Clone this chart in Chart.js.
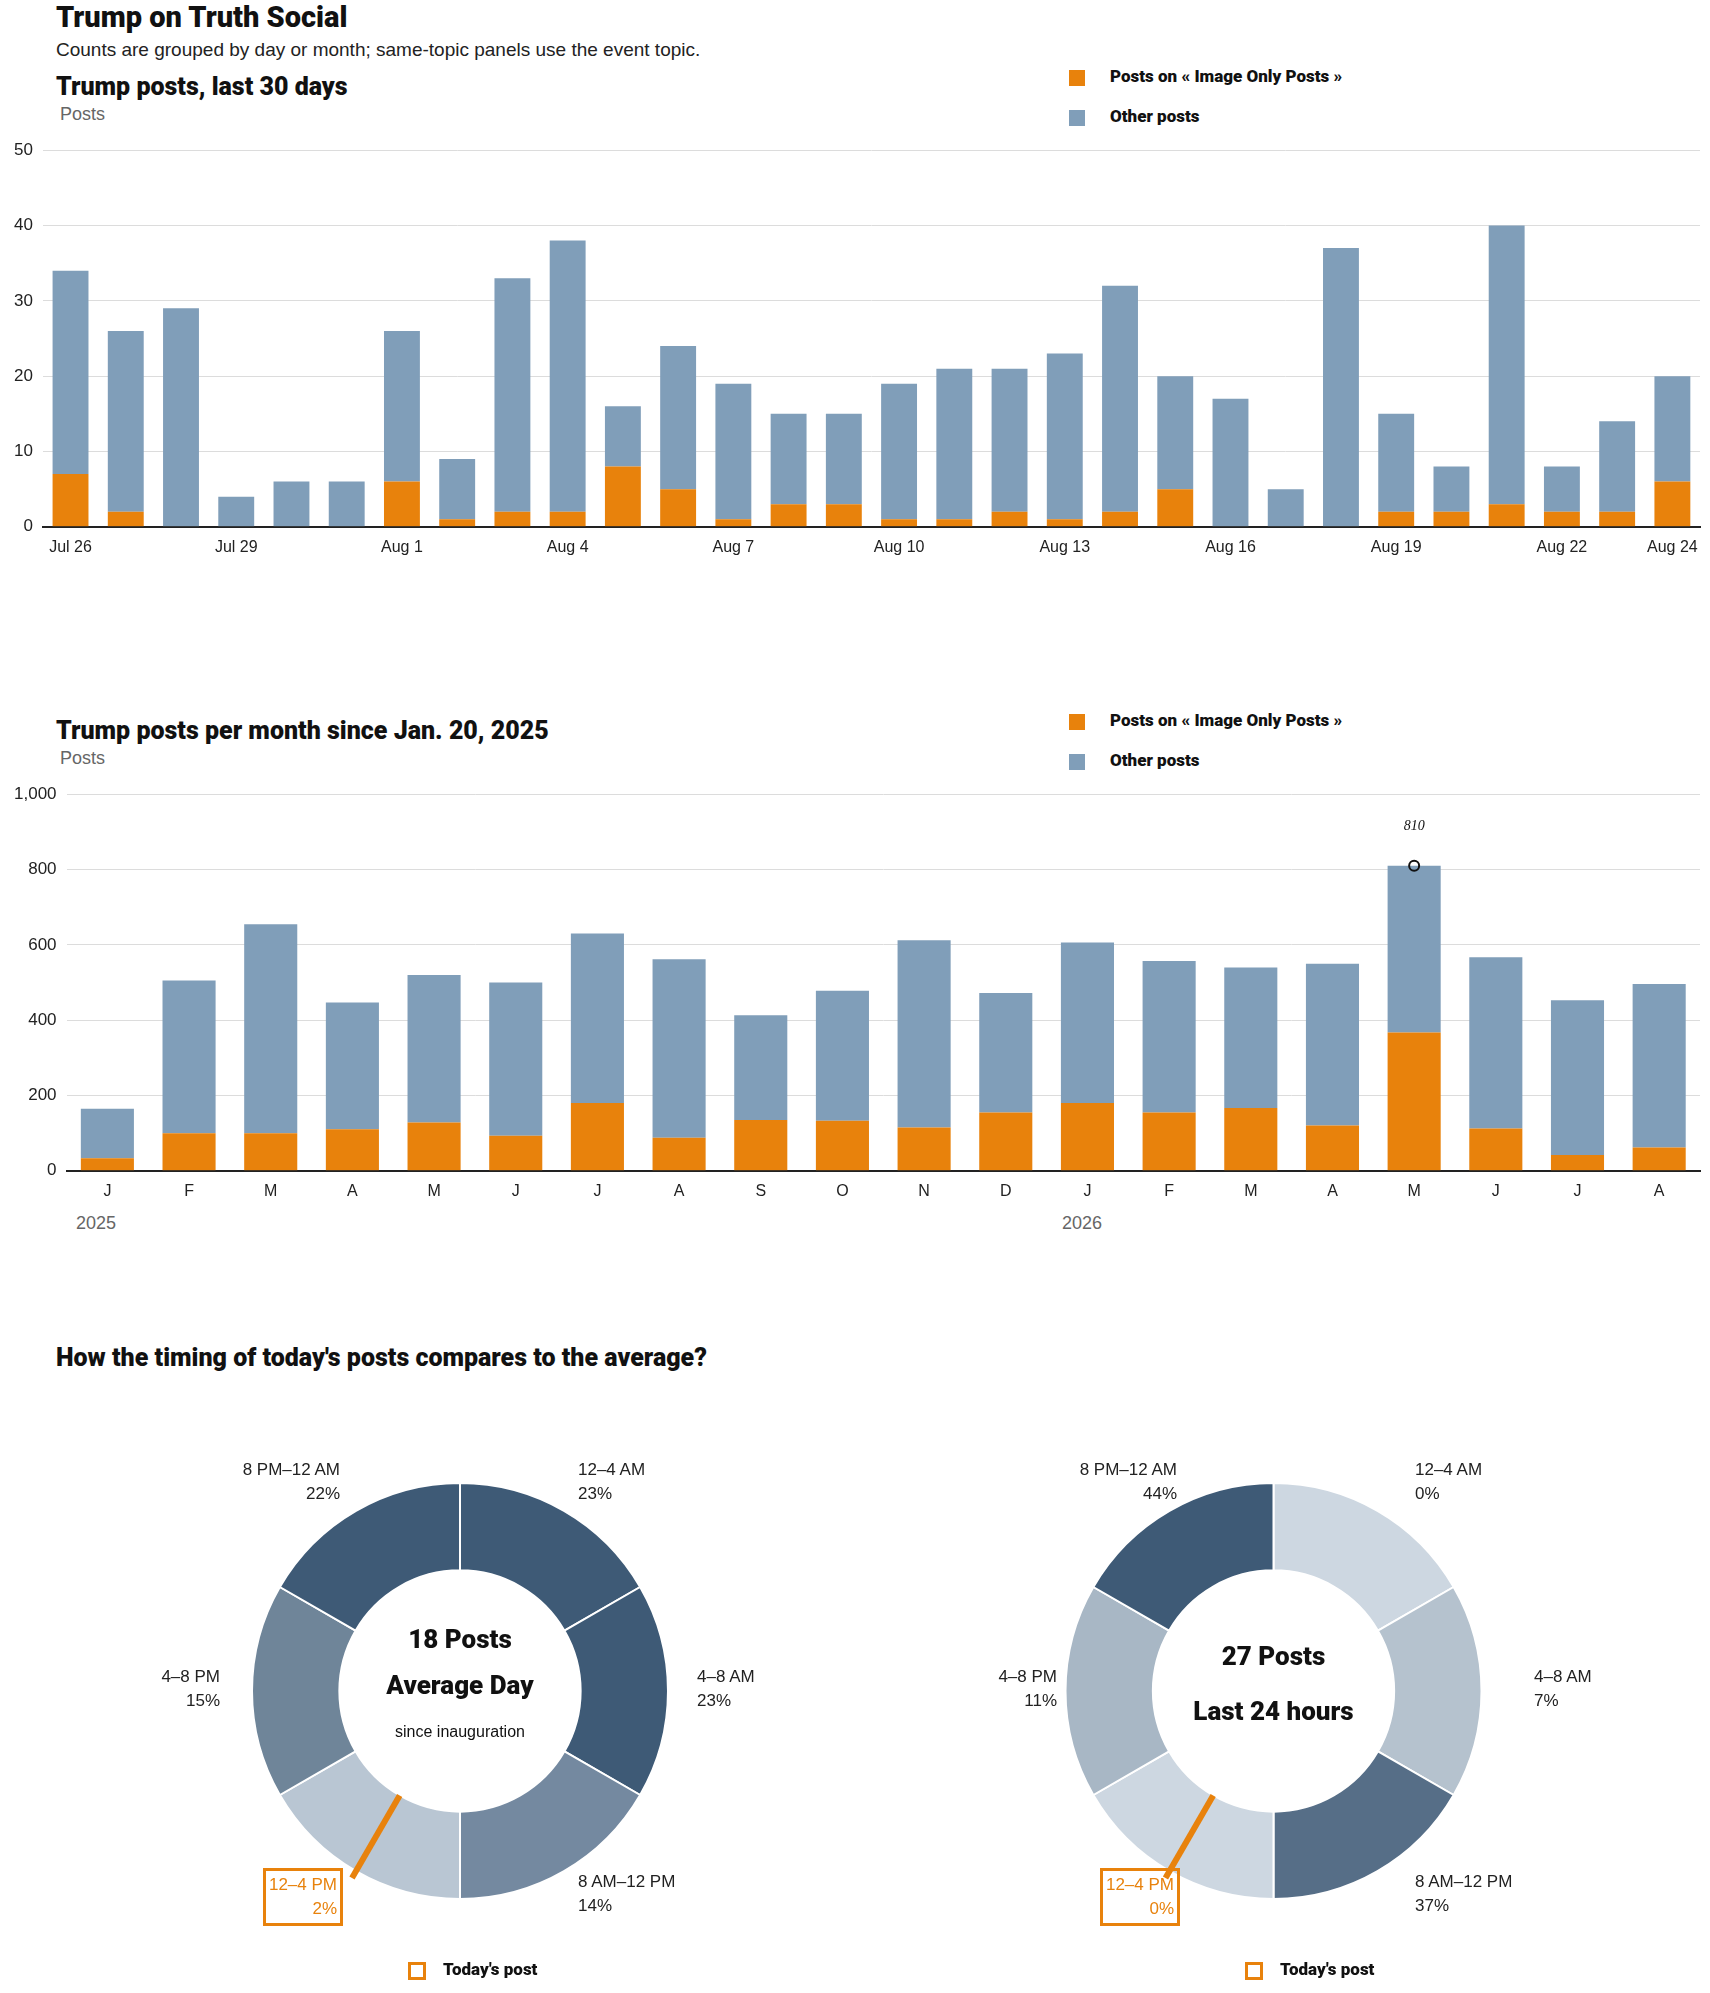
<!DOCTYPE html>
<html><head><meta charset="utf-8">
<script src="https://cdn.jsdelivr.net/npm/chart.js@4"></script>
<style>
body{margin:0;width:1710px;height:1993px;background:#fff;font-family:"Liberation Sans",Arial,sans-serif;color:#111;position:relative;overflow:hidden}
.a{position:absolute;white-space:nowrap}
.h{font-family:Roboto,"DejaVu Sans",sans-serif;font-weight:900}
.sq{position:absolute;width:16px;height:16px}
.lg{font-family:Roboto,sans-serif;font-weight:900;font-size:17px}
.g{color:#666;font-size:18px}
.lab{font-size:17px;line-height:24px;color:#222}
</style></head><body>
<div class="a h" style="left:56px;top:0;font-size:29px">Trump on Truth Social</div>
<div class="a" style="left:56px;top:39px;font-size:19px;color:#222">Counts are grouped by day or month; same-topic panels use the event topic.</div>
<div class="a h" style="left:56px;top:72px;font-size:25px">Trump posts, last 30 days</div>
<div class="a g" style="left:60px;top:104px">Posts</div>
<div class="sq" style="left:1069px;top:70px;background:#e8820c"></div><div class="a lg" style="left:1110px;top:66px">Posts on « Image Only Posts »</div>
<div class="sq" style="left:1069px;top:110px;background:#809eb9"></div><div class="a lg" style="left:1110px;top:106px">Other posts</div>
<div class="a" style="left:0;top:130px;width:1710px;height:430px"><canvas id="c1"></canvas></div>

<div class="a h" style="left:56px;top:716px;font-size:25px">Trump posts per month since Jan. 20, 2025</div>
<div class="a g" style="left:60px;top:748px">Posts</div>
<div class="sq" style="left:1069px;top:714px;background:#e8820c"></div><div class="a lg" style="left:1110px;top:710px">Posts on « Image Only Posts »</div>
<div class="sq" style="left:1069px;top:754px;background:#809eb9"></div><div class="a lg" style="left:1110px;top:750px">Other posts</div>
<div class="a" style="left:0;top:774px;width:1710px;height:430px"><canvas id="c2"></canvas></div>
<div class="a g" style="left:76px;top:1213px">2025</div>
<div class="a g" style="left:1062px;top:1213px">2026</div>

<div class="a h" style="left:56px;top:1343px;font-size:25px">How the timing of today's posts compares to the average?</div>
<div class="a" style="left:0;top:1400px;width:920px;height:580px"><canvas id="d1"></canvas></div>
<div class="a" style="left:837px;top:1400px;width:873px;height:580px"><canvas id="d2"></canvas></div>
<div id="labs"></div>
<script>
const dayLabels=["Jul 26","Jul 27","Jul 28","Jul 29","Jul 30","Jul 31","Aug 1","Aug 2","Aug 3","Aug 4","Aug 5","Aug 6","Aug 7","Aug 8","Aug 9","Aug 10","Aug 11","Aug 12","Aug 13","Aug 14","Aug 15","Aug 16","Aug 17","Aug 18","Aug 19","Aug 20","Aug 21","Aug 22","Aug 23","Aug 24"];
const dayTotal=[34,26,29,4,6,6,26,9,33,38,16,24,19,15,15,19,21,21,23,32,20,17,5,37,15,8,40,8,14,20];
const dayTopic=[7,2,0,0,0,0,6,1,2,2,8,5,1,3,3,1,1,2,1,2,5,0,0,0,2,2,3,2,2,6];
const monthLabels=["J","F","M","A","M","J","J","A","S","O","N","D","J","F","M","A","M","J","J","A"];
const monthTotal=[165,505,655,447,520,500,630,562,413,478,612,472,606,557,540,550,810,567,453,496];
const monthTopic=[33,100,100,110,128,93,180,88,135,133,115,155,180,155,167,120,367,112,42,62];
const slotLabels=["12–4 AM","4–8 AM","8 AM–12 PM","12–4 PM","4–8 PM","8 PM–12 AM"];
const avgShare=[23,23,14,2,15,22];
const todayShare=[0,7,37,0,11,44];
const avgColors=["#3e5a76","#3e5a76","#7489a0","#b9c6d3","#6f8599","#3e5a76"];
const todayColors=["#cdd7e1","#b5c2ce","#566e87","#cdd7e1","#a8b7c5","#3e5a76"];
const todayHour=14;
const ORANGE="#e8820c",BLUE="#809eb9";
Chart.defaults.font.family='"Liberation Sans",Arial,sans-serif';
Chart.defaults.color="#222";
function bar(id,labels,tot,top,max,step,tickCb,extra){
  return new Chart(document.getElementById(id),{type:"bar",
    data:{labels,datasets:[
      {data:top,backgroundColor:ORANGE,categoryPercentage:0.65,barPercentage:1},
      {data:tot.map((t,i)=>t-top[i]),backgroundColor:BLUE,categoryPercentage:0.65,barPercentage:1}]},
    options:{responsive:true,maintainAspectRatio:false,animation:false,
      layout:{padding:{left:4,right:10,top:10}},
      plugins:{legend:{display:false},tooltip:{enabled:false}},
      scales:{x:{stacked:true,grid:{display:false},border:{color:"#222",width:2},
          ticks:{autoSkip:false,maxRotation:0,font:{size:16},callback:tickCb}},
        y:{stacked:true,min:0,max,ticks:{stepSize:step,font:{size:17},padding:10},
          grid:{color:"#dcdcdc",drawTicks:false},border:{display:false}}}},
    plugins:extra?[extra]:[]});
}
bar("c1",dayLabels,dayTotal,dayTopic,50,10,(v,i)=>(i%3===0||i===dayLabels.length-1)?dayLabels[i]:"");
const peak=monthTotal.indexOf(Math.max(...monthTotal));
bar("c2",monthLabels,monthTotal,monthTopic,1000,200,(v,i)=>monthLabels[i],{id:"pk",afterDatasetsDraw(c){
  const x=c.scales.x.getPixelForValue(peak),y=c.scales.y.getPixelForValue(monthTotal[peak]),g=c.ctx;
  g.save();g.strokeStyle="#111";g.lineWidth=2;g.beginPath();g.arc(x,y,5,0,Math.PI*2);g.stroke();
  g.fillStyle="#111";g.font="italic 14px 'Liberation Serif',serif";g.textAlign="center";g.fillText(String(monthTotal[peak]),x,y-36);g.restore();}});

function donut(id,colors,l1,l2,l3){
  new Chart(document.getElementById(id),{type:"doughnut",
    data:{labels:slotLabels,datasets:[{data:slotLabels.map(()=>1),backgroundColor:colors,borderColor:"#fff",borderWidth:2}]},
    options:{responsive:true,maintainAspectRatio:false,animation:false,cutout:"58%",
      layout:{padding:{top:82,bottom:80}},plugins:{legend:{display:false},tooltip:{enabled:false}}},
    plugins:[{id:"t",afterDraw(c){
      const m=c.getDatasetMeta(0).data[0],g=c.ctx,cx=m.x,cy=m.y,ir=m.innerRadius,or=m.outerRadius;
      const a=todayHour/24*Math.PI*2;
      g.save();g.strokeStyle=ORANGE;g.lineWidth=6;g.beginPath();
      g.moveTo(cx+Math.sin(a)*ir,cy-Math.cos(a)*ir);g.lineTo(cx+Math.sin(a)*(or+8),cy-Math.cos(a)*(or+8));g.stroke();
      g.fillStyle="#111";g.textAlign="center";g.textBaseline="middle";
      g.font="900 26px Roboto,sans-serif";
      if(l3){g.fillText(l1,cx,cy-50);g.fillText(l2,cx,cy-4);g.font="16px 'Liberation Sans',sans-serif";g.fillText(l3,cx,cy+42);}
      else{g.fillText(l1,cx,cy-33);g.fillText(l2,cx,cy+22);}
      g.restore();}}]});
}
donut("d1",avgColors,"18 Posts","Average Day","since inauguration");
donut("d2",todayColors,"27 Posts","Last 24 hours");
// labels
const pos=[[578,1458,"l"],[697,1665,"l"],[578,1870,"l"],[340,1870,"b"],[220,1665,"r"],[340,1458,"r"]];
let html="";
[[0,avgShare],[837,todayShare]].forEach(([off,sh])=>{
  pos.forEach((p,i)=>{
    const t=slotLabels[i]+"<br>"+sh[i]+"%";
    if(p[2]==="l")html+=`<div class="a lab" style="left:${p[0]+off}px;top:${p[1]}px">${t}</div>`;
    else if(p[2]==="r")html+=`<div class="a lab" style="right:${1710-p[0]-off}px;top:${p[1]}px;text-align:right">${t}</div>`;
    else html+=`<div class="a lab" style="right:${1710-p[0]-off-3}px;top:${p[1]-2}px;text-align:right;color:${ORANGE};border:3px solid ${ORANGE};padding:2px 3px">${t}</div>`;
  });
  html+=`<div class="a" style="left:${408+off}px;top:1962px;width:12px;height:12px;border:3px solid ${ORANGE}"></div><div class="a lg" style="left:${443+off}px;top:1959px">Today's post</div>`;
});
document.getElementById("labs").innerHTML=html;
</script></body></html>
